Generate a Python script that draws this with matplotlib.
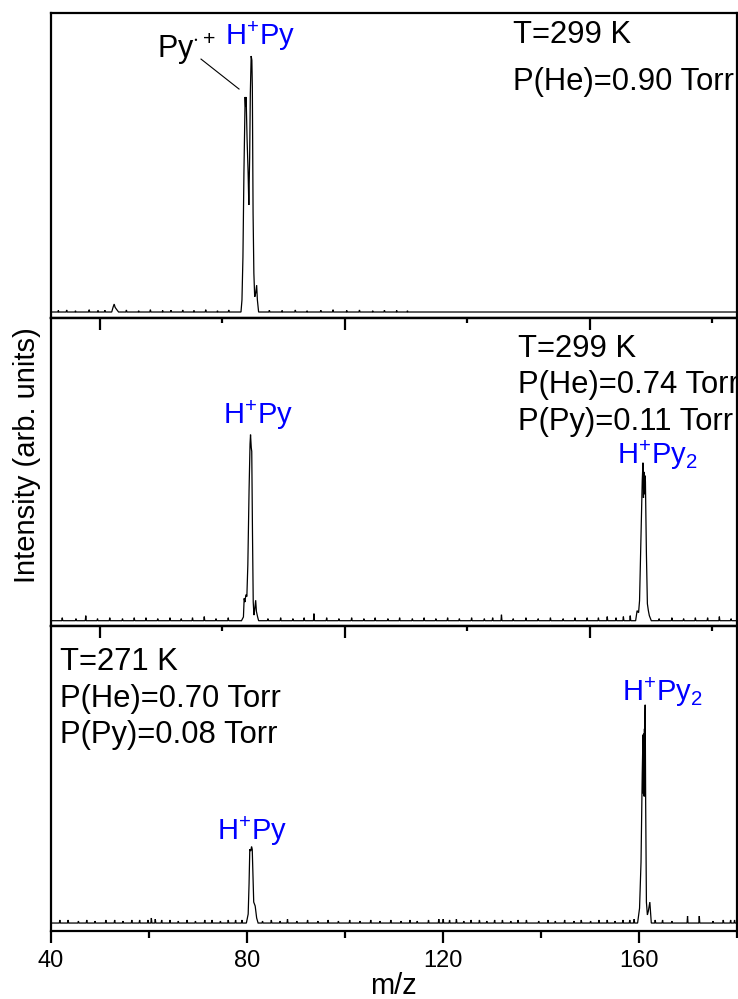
import matplotlib
matplotlib.use("Agg")
import matplotlib.pyplot as plt
from matplotlib.ticker import FixedLocator, NullFormatter

plt.rcParams['font.family'] = ['Liberation Sans', 'DejaVu Sans']
plt.rcParams['mathtext.fontset'] = 'custom'
plt.rcParams['mathtext.rm'] = 'Liberation Sans'
plt.rcParams['mathtext.it'] = 'Liberation Sans'
plt.rcParams['mathtext.bf'] = 'Liberation Sans:bold'

MZ_MIN, MZ_MAX = 40.0, 180.0
BLUE = '#0000FF'

# ---------------- spectrum data (arbitrary intensity units) ----------------
# Panel 1: T=299 K, He only
p1_peak_mz = [78.8, 79.0, 79.2, 79.4, 79.65, 79.75, 79.85, 80.05, 80.26, 80.40,
              80.57, 80.71, 80.88, 81.02, 81.12, 81.27, 81.43, 81.60, 81.80,
              82.00, 82.15, 82.40]
p1_peak_int = [0.0, 0.047, 0.215, 0.543, 0.840, 0.801, 0.840, 0.672, 0.543,
               0.418, 0.605, 0.855, 1.0, 0.984, 0.879, 0.387, 0.152, 0.059,
               0.074, 0.105, 0.047, 0.0]
p1_bump_mz = [52.4, 52.7, 52.9, 53.1, 53.4, 53.8]
p1_bump_int = [0.0, 0.020, 0.031, 0.018, 0.010, 0.0]
p1_noise_mz = [41.5, 43.2, 45.0, 47.8, 49.6, 51.0, 55.4, 57.9, 60.3, 62.8, 64.5,
               66.9, 69.2, 71.6, 74.0, 76.3, 84.6, 87.2, 89.9, 92.3, 95.1, 97.6,
               100.4, 103.0, 105.7, 108.1, 110.6, 112.8]
p1_noise_int = [0.006, 0.008, 0.005, 0.009, 0.006, 0.007, 0.008, 0.005, 0.009,
                0.006, 0.007, 0.008, 0.006, 0.009, 0.005, 0.008, 0.007, 0.006,
                0.008, 0.005, 0.007, 0.009, 0.006, 0.008, 0.005, 0.007, 0.006,
                0.005]

# Panel 2: T=299 K, He + Py
p2_peak1_mz = [78.9, 79.3, 79.45, 79.6, 79.8, 80.0, 80.2, 80.45, 80.65, 80.75,
               80.9, 81.0, 81.15, 81.3, 81.45, 81.6, 81.8, 81.95, 82.2, 82.4]
p2_peak1_int = [0.0, 0.02, 0.12, 0.10, 0.14, 0.13, 0.30, 0.70, 0.95, 1.0, 0.93,
                0.91, 0.47, 0.10, 0.03, 0.06, 0.11, 0.05, 0.02, 0.0]
p2_peak2_mz = [159.4, 159.7, 160.0, 160.2, 160.5, 160.75, 160.9, 161.0, 161.1,
               161.2, 161.3, 161.4, 161.6, 161.8, 162.0, 162.2, 162.6]
p2_peak2_int = [0.0, 0.054, 0.043, 0.108, 0.452, 0.753, 0.849, 0.66, 0.80,
                0.68, 0.78, 0.747, 0.360, 0.091, 0.054, 0.027, 0.0]
p2_noise_mz = [42.3, 45.1, 47.1, 49.5, 52.0, 54.6, 57.0, 59.4, 61.8, 64.3, 66.6,
               68.9, 71.3, 73.7, 76.2, 84.3, 86.9, 89.4, 91.7, 93.7, 96.3,
               98.8, 101.4, 103.9, 106.2, 108.8, 111.2, 113.8, 116.2, 118.6,
               121.0, 123.4, 125.9, 128.5, 130.2, 132.0, 134.4, 137.0, 139.5,
               142.0, 144.6, 147.0, 149.5, 151.8, 153.6, 155.4, 156.9, 158.3,
               164.2, 166.8, 169.2, 171.6, 174.1, 176.5, 178.9]
p2_noise_int = [0.016, 0.011, 0.027, 0.011, 0.016, 0.011, 0.016, 0.016, 0.011,
                0.016, 0.011, 0.016, 0.022, 0.011, 0.016, 0.011, 0.016, 0.011,
                0.016, 0.038, 0.016, 0.011, 0.016, 0.011, 0.016, 0.011, 0.016,
                0.011, 0.016, 0.011, 0.016, 0.011, 0.016, 0.011, 0.016, 0.032,
                0.011, 0.016, 0.011, 0.016, 0.011, 0.016, 0.016, 0.016, 0.022,
                0.016, 0.022, 0.027, 0.011, 0.016, 0.011, 0.016, 0.016, 0.022,
                0.011]

# Panel 3: T=271 K, He + Py
p3_peak1_mz = [79.9, 80.27, 80.45, 80.6, 80.8, 80.96, 81.1, 81.4, 81.7, 82.0, 82.3]
p3_peak1_int = [0.0, 0.041, 0.18, 0.338, 0.33, 0.350, 0.338, 0.096, 0.078,
                0.023, 0.0]
p3_peak2_mz = [159.8, 160.2, 160.5, 160.75, 160.9, 160.95, 161.0, 161.05, 161.1,
               161.15, 161.2, 161.25, 161.3, 161.35, 161.45, 161.6, 161.8,
               162.0, 162.3, 162.6]
p3_peak2_int = [0.0, 0.068, 0.279, 0.685, 0.863, 0.594, 0.845, 0.584, 0.868,
                0.580, 0.890, 0.594, 0.936, 1.0, 0.548, 0.096, 0.037, 0.055,
                0.096, 0.0]
p3_noise_mz = [41.8, 43.5, 45.6, 47.3, 49.0, 51.2, 53.0, 54.7, 56.5, 58.1, 59.8,
               60.5, 61.3, 62.6, 64.3, 66.0, 67.8, 69.5, 71.4, 72.9, 74.6, 76.2,
               77.7, 79.0, 83.2, 85.0, 86.8, 88.3, 90.2, 92.4, 94.5, 96.6, 98.7,
               101.0, 103.1, 105.3, 107.2, 109.4, 111.5, 113.3, 114.8, 117.1,
               119.2, 120.1, 121.4, 122.8, 124.3, 125.8, 127.5, 129.0, 130.6,
               132.2, 133.9, 135.4, 137.1, 139.6, 141.5, 143.0, 144.9, 146.8,
               148.3, 150.2, 151.9, 153.6, 155.2, 156.8, 158.2, 159.1, 163.4,
               164.9, 166.8, 170.0, 172.4, 175.2, 177.3, 178.8, 179.6]
p3_noise_int = [0.014, 0.014, 0.009, 0.014, 0.009, 0.014, 0.014, 0.009, 0.014,
                0.014, 0.014, 0.023, 0.018, 0.014, 0.014, 0.009, 0.014, 0.009,
                0.014, 0.014, 0.009, 0.014, 0.014, 0.014, 0.009, 0.014, 0.009,
                0.018, 0.009, 0.014, 0.009, 0.014, 0.009, 0.014, 0.009, 0.014,
                0.009, 0.014, 0.009, 0.014, 0.009, 0.014, 0.018, 0.018, 0.014,
                0.018, 0.009, 0.014, 0.014, 0.009, 0.014, 0.014, 0.009, 0.014,
                0.014, 0.009, 0.014, 0.009, 0.014, 0.009, 0.014, 0.009, 0.014,
                0.014, 0.009, 0.014, 0.014, 0.018, 0.014, 0.014, 0.009, 0.032,
                0.032, 0.009, 0.014, 0.014, 0.014]

# panel y ranges (baseline sits just above each lower spine)
p1_ylim = (-0.0234, 1.168)
p2_ylim = (-0.0285, 1.627)
p3_ylim = (-0.0365, 1.361)

# condition labels
p1_cond = ["T=299 K", "P(He)=0.90 Torr"]
p2_cond = ["T=299 K", "P(He)=0.74 Torr", "P(Py)=0.11 Torr"]
p3_cond = ["T=271 K", "P(He)=0.70 Torr", "P(Py)=0.08 Torr"]

xticks_major = [40, 80, 120, 160]
xticks_minor = [60, 100, 140, 180]
top_major = [50, 100, 150]
top_minor = [75, 125, 175]


def build_trace(profiles, noise_mz, noise_int, half_width=0.1):
    """Merge peak profiles and isolated noise spikes onto a zero baseline."""
    pts = [(MZ_MIN, 0.0), (MZ_MAX, 0.0)]
    for m, h in zip(noise_mz, noise_int):
        pts += [(m - half_width, 0.0), (m, h), (m + half_width, 0.0)]
    for pmz, pint in profiles:
        pts += list(zip(pmz, pint))
    pts.sort(key=lambda p: p[0])
    return [p[0] for p in pts], [p[1] for p in pts]


fig = plt.figure(figsize=(7.38, 9.99), dpi=100)
left, width = 51 / 738, 685.5 / 738
ax1 = fig.add_axes([left, (999 - 318) / 999, width, 305 / 999])
ax2 = fig.add_axes([left, (999 - 626) / 999, width, 308 / 999])
ax3 = fig.add_axes([left, (999 - 931) / 999, width, 305 / 999])

traces = [
    build_trace([(p1_bump_mz, p1_bump_int), (p1_peak_mz, p1_peak_int)],
                p1_noise_mz, p1_noise_int),
    build_trace([(p2_peak1_mz, p2_peak1_int), (p2_peak2_mz, p2_peak2_int)],
                p2_noise_mz, p2_noise_int),
    build_trace([(p3_peak1_mz, p3_peak1_int), (p3_peak2_mz, p3_peak2_int)],
                p3_noise_mz, p3_noise_int),
]
ylims = [p1_ylim, p2_ylim, p3_ylim]

for i, (ax, (xs, ys), yl) in enumerate(zip([ax1, ax2, ax3], traces, ylims)):
    ax.plot(xs, ys, color='black', lw=0.9, solid_joinstyle='miter')
    ax.set_xlim(MZ_MIN, MZ_MAX)
    ax.set_ylim(*yl)
    ax.set_yticks([])
    for sp in ax.spines.values():
        sp.set_linewidth(1.6)
    if i < 2:
        ax.tick_params(axis='x', bottom=False, labelbottom=False)
    if i > 0:
        sec = ax.secondary_xaxis('top')
        sec.xaxis.set_major_locator(FixedLocator(top_major))
        sec.xaxis.set_minor_locator(FixedLocator(top_minor))
        sec.xaxis.set_major_formatter(NullFormatter())
        sec.tick_params(which='major', direction='in', length=8.4, width=1.6)
        sec.tick_params(which='minor', direction='in', length=3.8, width=1.6)
        sec.spines['top'].set_linewidth(1.6)

ax3.xaxis.set_major_locator(FixedLocator(xticks_major))
ax3.xaxis.set_minor_locator(FixedLocator(xticks_minor))
ax3.tick_params(axis='x', which='major', direction='out', length=8.5,
                width=1.6, labelsize=17, pad=5)
ax3.tick_params(axis='x', which='minor', direction='out', length=4.8, width=1.6)
ax3.set_xlabel('m/z', fontsize=21, labelpad=0)

fig.text(27 / 738, (999 - 455) / 999, 'Intensity (arb. units)', rotation=90,
         ha='center', va='center', fontsize=21)

# condition blocks
for ax, lines, x0, ys in [
        (ax1, p1_cond, 0.6744, [0.9007, 0.7475]),
        (ax2, p2_cond, 0.6817, [0.8744, 0.7555, 0.6364]),
        (ax3, p3_cond, 0.0131, [0.8557, 0.7354, 0.6154])]:
    for txt, y in zip(lines, ys):
        ax.text(x0, y, txt, transform=ax.transAxes, fontsize=22.3,
                ha='left', va='baseline', clip_on=True)

# peak labels
lab_kw = dict(fontsize=21, color=BLUE, ha='left', va='baseline')
ax1.text(75.54, 1.043, r'H$^{+}$Py', **lab_kw)
ax2.text(75.19, 1.058, r'H$^{+}$Py', **lab_kw)
ax2.text(155.54, 0.842, r'H$^{+}$Py$_{2}$', **lab_kw)
ax3.text(73.84, 0.382, r'H$^{+}$Py', **lab_kw)
ax3.text(156.56, 1.018, r'H$^{+}$Py$_{2}$', **lab_kw)

ax1.text(61.59, 0.991, r'Py$^{\cdot+}$', fontsize=22, color='black',
         ha='left', va='baseline')
ax1.plot([70.64, 78.40], [0.988, 0.871], color='black', lw=0.8)

fig.savefig('out.png', dpi=100)
